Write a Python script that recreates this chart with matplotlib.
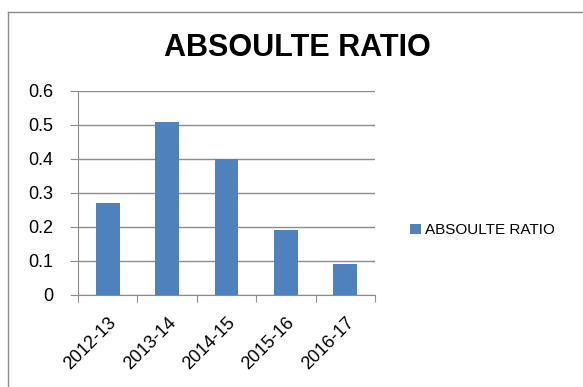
import numpy as np
import matplotlib.pyplot as plt
from matplotlib.lines import Line2D

years = ['2012-13', '2013-14', '2014-15', '2015-16', '2016-17']
ratio = [0.27, 0.51, 0.40, 0.19, 0.09]

plt.rcParams['font.family'] = ['Liberation Sans', 'DejaVu Sans']

fig = plt.figure(figsize=(5.83, 3.87), dpi=100)
ax = fig.add_axes([0.134, 0.238, 0.509, 0.527])

x = np.arange(len(years))
ax.bar(x, ratio, width=0.4, color='#4F81BD', label='ABSOULTE RATIO', zorder=3)

ax.set_xlim(-0.5, len(years) - 0.5)
ax.set_ylim(0, 0.6)
ax.set_yticks(np.arange(0, 0.61, 0.1))
ax.set_yticklabels(['0', '0.1', '0.2', '0.3', '0.4', '0.5', '0.6'])
ax.yaxis.grid(True, color='#8c8c8c', linewidth=1, zorder=0)

# category ticks sit between the bars, labels at centres
ax.set_xticks(np.arange(-0.5, len(years), 1.0))
ax.set_xticklabels([])
ax.set_xticks(x, minor=True)
ax.set_xticklabels(years, minor=True, rotation=45, ha='right',
                   rotation_mode='anchor', fontsize=13)
ax.tick_params(axis='x', which='minor', length=0, pad=14)
ax.tick_params(axis='x', which='major', length=5, color='#8c8c8c', direction='out')
ax.tick_params(axis='y', length=6, color='#8c8c8c', labelsize=13, pad=12)

for s in ['top', 'right']:
    ax.spines[s].set_visible(False)
for s in ['left', 'bottom']:
    ax.spines[s].set_color('#8c8c8c')

fig.text(0.51, 0.875, 'ABSOULTE RATIO', ha='center', va='center',
         fontsize=22, fontweight='bold')

fig.legend(loc='center left', bbox_to_anchor=(0.68, 0.405), frameon=False,
           fontsize=11, handlelength=0.7, handleheight=0.7, handletextpad=0.3)

# outer chart border (left and top visible)
fig.add_artist(Line2D([8/583, 8/583], [0, 1 - 12/387], transform=fig.transFigure,
                      color='#8c8c8c', linewidth=1))
fig.add_artist(Line2D([8/583, 1], [1 - 12/387, 1 - 12/387], transform=fig.transFigure,
                      color='#8c8c8c', linewidth=1))

fig.savefig('out.png', dpi=100)
